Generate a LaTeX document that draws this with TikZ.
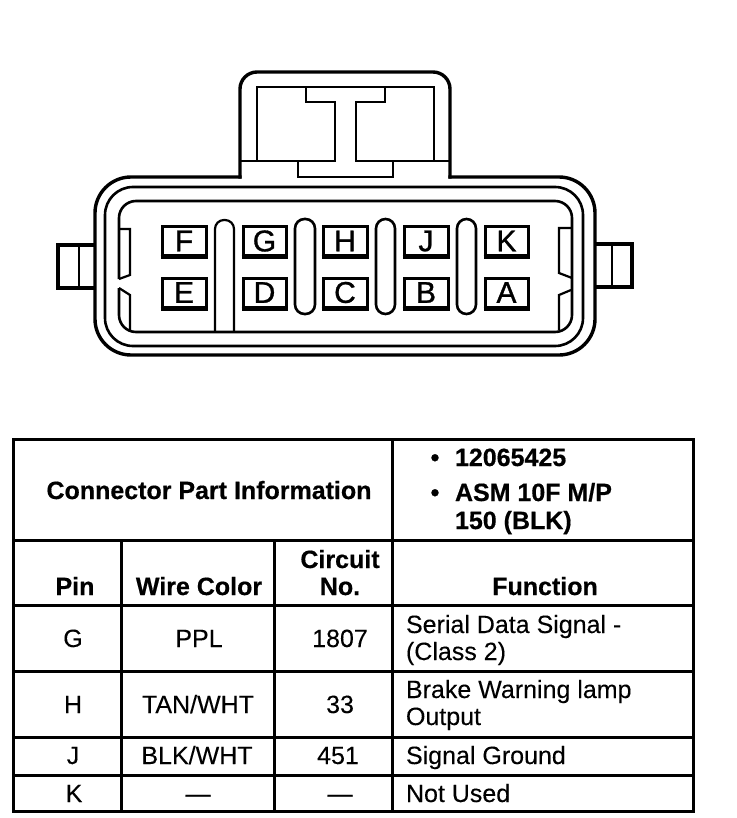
\documentclass[tikz,border=0pt]{standalone}
\usepackage{fontspec}
\setmainfont{Liberation Sans}
\newfontfamily\pinfont[FakeBold=1.0]{Liberation Sans}
\newfontfamily\headfont[FakeBold=0.5]{Liberation Sans Bold}
\newfontfamily\bodyfont[FakeBold=0.15]{Liberation Sans}
\tikzset{
  txt/.style={anchor=base,inner sep=0pt,outer sep=0pt,font=\fontsize{25}{27}\bodyfont},
  lefttxt/.style={txt,anchor=base west},
  head/.style={txt,font=\fontsize{25}{27}\headfont},
  lefthead/.style={head,anchor=base west},
  pinbox/.style={draw,line width=3pt,minimum width=#1,inner sep=0pt,font=\fontsize{30}{31}\pinfont},
  outerline/.style={line width=3.4pt,line cap=rect,line join=round},
  midline/.style={line width=2.6pt},
  thinline/.style={line width=2.2pt},
  rule/.style={line width=3pt,line cap=rect},
}
\begin{document}
\begin{tikzpicture}[x=1pt,y=-1pt]
\useasboundingbox[fill=white] (0,0) rectangle (736,818);
% housing
\draw[outerline,rounded corners=17pt] (240,177) -- (240,72) -- (450,72) -- (450,177);
\draw[outerline,rounded corners=36pt] (450,177) -- (595,177) -- (595,355) -- (95,355) -- (95,177) -- (240,177);
\draw[midline,rounded corners=28pt] (105,187) rectangle (583,346);
\draw[midline,rounded corners=17pt] (119,279) -- (119,201) -- (572,201) -- (572,332) -- (119,332) -- (119,288);
% hood interior
\draw[thinline] (240,161) -- (335,161) -- (335,102) -- (306,102) -- (306,87) -- (257,87) -- (257,161);
\draw[thinline] (306,87) -- (385,87) -- (385,102) -- (356,102) -- (356,161) -- (450,161);
\draw[thinline] (385,87) -- (434,87) -- (434,161);
\draw[thinline] (298,161) -- (298,177) -- (393,177) -- (393,161);
% ears
\draw[line width=3.2pt] (95,245) -- (58,245) -- (58,288) -- (95,288);
\draw[line width=2.6pt] (79,245) -- (79,288);
\draw[line width=3.2pt] (595,244) -- (632,244) -- (632,287) -- (595,287);
\draw[line width=2.6pt] (612,244) -- (612,287);
% latches
\draw[thinline] (119,229) -- (130,229) -- (130,275) -- (119,279);
\draw[thinline] (119,288) -- (130,295) -- (130,331);
\draw[thinline] (572,228) -- (559,228) -- (559,273) -- (572,278);
\draw[thinline] (571,290) -- (559,295) -- (559,330);
% ribs
\draw[thinline,rounded corners=9pt] (215,332) -- (215,220) -- (234,220) -- (234,332);
\draw[midline,rounded corners=9.5pt] (295,219) rectangle (315,314);
\draw[midline,rounded corners=9.5pt] (376,219) rectangle (395,314);
\draw[midline,rounded corners=9.5pt] (457,219) rectangle (476,314);
% pin cavities
\foreach \nm/\cx/\cy/\bw in {F/184/241/44,G/264.5/241/43,H/345/241/44,J/426/241/44,K/506.5/241/43,
                             E/184/292.5/44,D/264.5/292.5/43,C/345/292.5/44,B/426/292.5/44,A/506.5/292.5/43}{
  \node[pinbox=\bw pt,minimum height=29pt] (pin\nm) at (\cx,\cy) {\nm};
  \draw[line width=4pt] (pin\nm.south west) -- (pin\nm.south east);
}
% table rules
\coordinate (tl) at (13,439); \coordinate (tr) at (693,439);
\coordinate (bl) at (13,811); \coordinate (br) at (693,811);
\draw[rule] (tl) -- (tr) -- (br) -- (bl) -- cycle;
\foreach \yy in {540,605,671,737,775} \draw[rule] (13,\yy) -- (693,\yy);
\draw[rule] (392,439) -- (392,811);
\draw[rule] (121,540) -- (121,811);
\draw[rule] (274,540) -- (274,811);
% header
\node[head] (title) at (209,499) {Connector Part Information};
\node[head] (bulA) at (435,466) {•};
\node[lefthead] (partA) at (455,466) {12065425};
\node[head] (bulB) at (435,501) {•};
\node[lefthead] (partB) at (455,501) {ASM 10F M/P};
\node[lefthead] (partC) at (455,529) {150 (BLK)};
\node[head] (hPin) at (75,595) {Pin};
\node[head] (hWire) at (199,595) {Wire Color};
\node[head] (hCirA) at (340,568) {Circuit};
\node[head] (hCirB) at (340,595) {No.};
\node[head] (hFunc) at (545,595) {Function};
% rows
\node[txt] (g1) at (73,647) {G};
\node[txt] (g2) at (199,647) {PPL};
\node[txt] (g3) at (340,647) {1807};
\node[lefttxt] (g4) at (406,633) {Serial Data Signal -};
\node[lefttxt] (g5) at (406,660) {(Class 2)};
\node[txt] (h1) at (73,713) {H};
\node[txt] (h2) at (198,713) {TAN/WHT};
\node[txt] (h3) at (340,713) {33};
\node[lefttxt] (h4) at (406,698) {Brake Warning lamp};
\node[lefttxt] (h5) at (406,725) {Output};
\node[txt] (j1) at (73,764) {J};
\node[txt] (j2) at (197,764) {BLK/WHT};
\node[txt] (j3) at (338,764) {451};
\node[lefttxt] (j4) at (406,764) {Signal Ground};
\node[txt] (k1) at (74,802) {K};
\node[txt] (k2) at (198,802) {—};
\node[txt] (k3) at (340,802) {—};
\node[lefttxt] (k4) at (406,802) {Not Used};
\end{tikzpicture}
\end{document}
